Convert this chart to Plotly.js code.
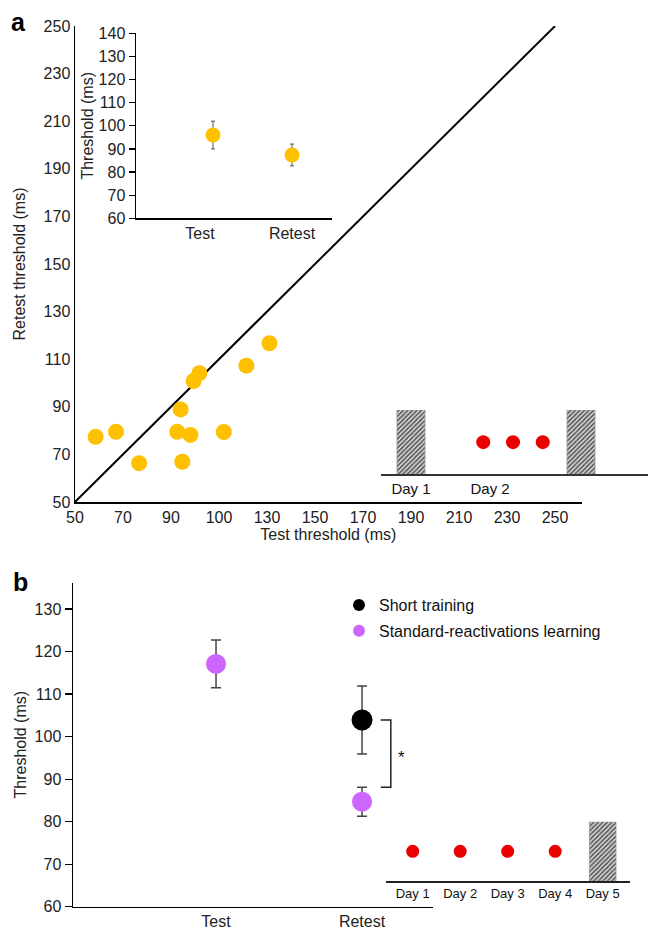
<!DOCTYPE html>
<html>
<head>
<meta charset="utf-8">
<script src="https://cdn.plot.ly/plotly-3.0.1.min.js"></script>
<style>html,body{margin:0;padding:0;background:#fff;}#chart{width:648px;height:930px;}</style>
</head>
<body>
<div id="chart"></div>
<script>
// ---------- Panel a: individual thresholds ----------
const testThresholds   = [58.6, 67.1, 76.7, 94.0, 92.6, 98.1, 94.7, 99.4, 101.8, 112.0, 121.4, 131.0];
const retestThresholds = [77.4, 79.5, 66.3, 88.9, 79.5, 78.2, 66.9, 100.8, 104.1, 79.4, 107.3, 116.7];
const identityLine = [50, 250];
const aXTickVals = [50, 70, 90, 110, 130, 150, 170, 190, 210, 230, 250];
const aXTickText = ['50', '70', '90', '100', '130', '150', '170', '190', '210', '230', '250'];
const aYTickVals = [50, 70, 90, 110, 130, 150, 170, 190, 210, 230, 250];

// inset (group means)
const insetCategories = ['Test', 'Retest'];
const insetMeans = [96.0, 87.4];
const insetErrors = [6.0, 4.7];
const insetYTicks = [60, 70, 80, 90, 100, 110, 120, 130, 140];

// schedule a
const schedALabels = ['Day 1', 'Day 2'];
const schedALabelPos = [1, 1.93];
const schedABars = [1, 3];
const schedADots = [1.85, 2.2, 2.55];

// ---------- Panel b ----------
const bCategories = ['Test', 'Retest'];
const standardMeans = [117.1, 84.7];
const standardErrors = [5.6, 3.4];
const shortMeans = [103.9];
const shortErrors = [8.0];
const bYTicks = [60, 70, 80, 90, 100, 110, 120, 130];

const schedBLabels = ['Day 1', 'Day 2', 'Day 3', 'Day 4', 'Day 5'];
const schedBDots = [1, 2, 3, 4];
const schedBBars = [5];

// ---------- styles ----------
const FONT = 'Liberation Sans, Arial, Helvetica, sans-serif';
const W = 648, H = 930;
const px = v => v / W;
const py = v => 1 - v / H;
const YELLOW = 'rgb(255,192,0)';
const PURPLE = 'rgb(204,102,255)';
const RED = 'rgb(235,0,0)';
const hatch = {shape: '/', fgcolor: '#4a4a4a', bgcolor: '#d6d6d6', size: 3.2, solidity: 0.45};

const ones = arr => arr.map(() => 1);
const halves = arr => arr.map(() => 0.5);
const idx = arr => arr.map((_, i) => i + 1);

const traces = [
  // panel a
  {x: identityLine, y: identityLine, xaxis: 'x', yaxis: 'y', mode: 'lines',
   line: {color: '#000', width: 2}, showlegend: false, hoverinfo: 'skip'},
  {x: testThresholds, y: retestThresholds, xaxis: 'x', yaxis: 'y', mode: 'markers',
   marker: {color: YELLOW, size: 16}, showlegend: false, cliponaxis: false},
  // inset
  {x: idx(insetCategories), y: insetMeans, xaxis: 'x2', yaxis: 'y2', mode: 'markers',
   marker: {color: YELLOW, size: 15},
   error_y: {type: 'data', array: insetErrors, visible: true, color: '#555', thickness: 1, width: 2},
   showlegend: false, cliponaxis: false},
  // schedule a
  {x: schedABars, y: ones(schedABars), xaxis: 'x4', yaxis: 'y4', type: 'bar', width: 0.33,
   marker: {color: '#d6d6d6', pattern: hatch, line: {color: '#999', width: 0.8}}, showlegend: false},
  {x: schedADots, y: halves(schedADots), xaxis: 'x4', yaxis: 'y4', mode: 'markers',
   marker: {color: RED, size: 14}, showlegend: false, cliponaxis: false},
  // panel b
  {x: [2], y: shortMeans, xaxis: 'x3', yaxis: 'y3', mode: 'markers', name: 'Short training',
   marker: {color: '#000', size: 21},
   error_y: {type: 'data', array: shortErrors, visible: true, color: '#444', thickness: 1.5, width: 5},
   legendgroup: 'g1', cliponaxis: false},
  {x: idx(bCategories), y: standardMeans, xaxis: 'x3', yaxis: 'y3', mode: 'markers',
   name: 'Standard-reactivations learning',
   marker: {color: PURPLE, size: 20},
   error_y: {type: 'data', array: standardErrors, visible: true, color: '#444', thickness: 1.5, width: 5},
   legendgroup: 'g2', cliponaxis: false},
  // schedule b
  {x: schedBBars, y: ones(schedBBars), xaxis: 'x5', yaxis: 'y5', type: 'bar', width: 0.56,
   marker: {color: '#d6d6d6', pattern: hatch, line: {color: '#999', width: 0.8}}, showlegend: false},
  {x: schedBDots, y: halves(schedBDots), xaxis: 'x5', yaxis: 'y5', mode: 'markers',
   marker: {color: RED, size: 13}, showlegend: false, cliponaxis: false}
];

const tickFont = {family: FONT, size: 16, color: '#222'};
const titleFont = {family: FONT, size: 16, color: '#222'};
const baseAxis = {showgrid: false, zeroline: false, showline: true, linecolor: '#000', linewidth: 1.5,
                  tickfont: tickFont, fixedrange: true};

// bracket from Short training retest mean to Standard retest upper error
const bracketTop = shortMeans[0];
const bracketBottom = standardMeans[1] + standardErrors[1];
const bx0 = 2.128, bx1 = 2.197;

const layout = {
  width: W, height: H,
  margin: {l: 0, r: 0, t: 0, b: 0},
  paper_bgcolor: '#fff', plot_bgcolor: 'rgba(0,0,0,0)',
  font: {family: FONT, color: '#222'},
  showlegend: true,
  legend: {x: px(339), y: py(588), xanchor: 'left', yanchor: 'top', bgcolor: 'rgba(0,0,0,0)',
           font: {family: FONT, size: 16, color: '#111'}, itemsizing: 'constant', tracegroupgap: 2},
  xaxis: Object.assign({}, baseAxis, {domain: [px(75), px(581.7)], range: [50, 261.1], anchor: 'y',
    tickvals: aXTickVals, ticktext: aXTickText, ticks: '',
    title: {text: 'Test threshold (ms)', font: titleFont, standoff: 4}}),
  yaxis: Object.assign({}, baseAxis, {domain: [py(502), py(26)], range: [50, 250], anchor: 'x',
    tickvals: aYTickVals, ticks: '',
    title: {text: 'Retest threshold (ms)', font: titleFont, standoff: 14}}),
  xaxis2: Object.assign({}, baseAxis, {domain: [px(136), px(332)], range: [0.025, 2.506], anchor: 'y2',
    tickvals: [0.835, 2], ticktext: insetCategories, ticks: ''}),
  yaxis2: Object.assign({}, baseAxis, {domain: [py(218.3), py(33.3)], range: [60, 140], anchor: 'x2',
    tickvals: insetYTicks, ticks: 'outside', ticklen: 6, tickcolor: '#000', tickwidth: 1.2,
    title: {text: 'Threshold (ms)', font: titleFont, standoff: 1}}),
  xaxis3: Object.assign({}, baseAxis, {domain: [px(73), px(433)], range: [0.0205, 2.486], anchor: 'y3',
    tickvals: idx(bCategories), ticktext: bCategories, ticks: ''}),
  yaxis3: Object.assign({}, baseAxis, {domain: [py(906.7), py(582.7)], range: [60, 136.2], anchor: 'x3',
    tickvals: bYTicks, ticks: 'outside', ticklen: 7, tickcolor: '#000', tickwidth: 1.2,
    title: {text: 'Threshold (ms)', font: titleFont, standoff: 4}}),
  xaxis4: Object.assign({}, baseAxis, {domain: [px(381), 1], range: [0.647, 3.788], anchor: 'y4',
    linecolor: '#333', tickvals: schedALabelPos, ticktext: schedALabels, ticks: '',
    tickfont: {family: FONT, size: 15, color: '#111'}}),
  yaxis4: {domain: [py(474.3), py(410)], range: [0, 1], anchor: 'x4', visible: false, fixedrange: true},
  xaxis5: Object.assign({}, baseAxis, {domain: [px(386), px(630)], range: [0.438, 5.575], anchor: 'y5',
    linecolor: '#222', tickvals: idx(schedBLabels), ticktext: schedBLabels, ticks: '',
    tickfont: {family: FONT, size: 13, color: '#111'}}),
  yaxis5: {domain: [py(881), py(821.7)], range: [0, 1], anchor: 'x5', visible: false, fixedrange: true},
  shapes: [
    {type: 'path', xref: 'x3', yref: 'y3', layer: 'above',
     path: `M ${bx0},${bracketTop} L ${bx1},${bracketTop} L ${bx1},${bracketBottom} L ${bx0},${bracketBottom}`,
     line: {color: '#222', width: 1.5}}
  ],
  annotations: [
    {text: '<b>a</b>', xref: 'paper', yref: 'paper', x: px(18), y: py(22), showarrow: false,
     font: {family: FONT, size: 25, color: '#000'}, xanchor: 'center', yanchor: 'middle'},
    {text: '<b>b</b>', xref: 'paper', yref: 'paper', x: px(20), y: py(582), showarrow: false,
     font: {family: FONT, size: 25, color: '#000'}, xanchor: 'center', yanchor: 'middle'},
    {text: '*', xref: 'x3', yref: 'y3', x: 2.27, y: (bracketTop + bracketBottom) / 2 - 1.0, showarrow: false,
     font: {family: FONT, size: 17, color: '#111'}}
  ]
};

Plotly.newPlot('chart', traces, layout, {staticPlot: true, displayModeBar: false});
</script>
</body>
</html>
